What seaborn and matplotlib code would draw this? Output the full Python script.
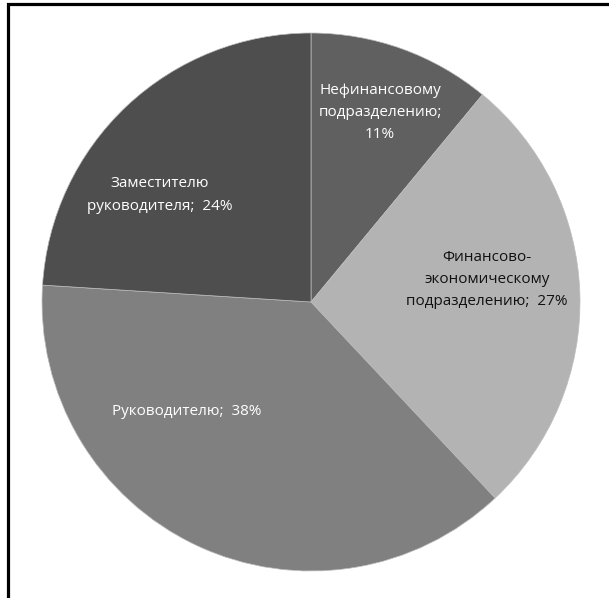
import matplotlib
matplotlib.use("Agg")
import matplotlib.pyplot as plt
import seaborn as sns
import numpy as np
from matplotlib.patches import Rectangle

# ---- data ----
categories = ["Нефинансовому\nподразделению;\n11%",
              "Финансово-\nэкономическому\nподразделению;  27%",
              "Руководителю;  38%",
              "Заместителю\nруководителя;  24%"]
values = [11, 27, 38, 24]

# ---- style ----
sns.set_theme(style="white")
plt.rcParams['font.family'] = ['Open Sans', 'DejaVu Sans']

colors = ["#606060", "#b3b3b3", "#808080", "#4e4e4e"]
text_colors = ["white", "#111111", "white", "white"]
# label placement: (angle in degrees, distance as fraction of radius)
label_pos = [(70, 0.75), (7.2, 0.66), (-138.7, 0.617), (144.8, 0.69)]

W, H = 609, 598
fig = plt.figure(figsize=(W / 100, H / 100), dpi=100)
ax = fig.add_axes([0, 0, 1, 1])

cx, cy, R = 311, H - 302, 269
wedges, _ = ax.pie(values, colors=colors, startangle=90, counterclock=False,
                   center=(cx, cy), radius=R, frame=True,
                   wedgeprops=dict(edgecolor="#bdbdbd", linewidth=0.5))
ax.set_xlim(0, W)
ax.set_ylim(0, H)
ax.set_aspect("equal")
ax.axis("off")

for lab, (ang, frac), tc in zip(categories, label_pos, text_colors):
    a = np.deg2rad(ang)
    ax.text(cx + frac * R * np.cos(a), cy + frac * R * np.sin(a), lab,
            ha="center", va="center", fontsize=11, color=tc,
            linespacing=1.65)

# outer frame (cut off at right and bottom in the reference)
fig.patches.append(Rectangle((7.5 / W, -0.1), 1.2, (H - 4.5) / H + 0.1,
                             transform=fig.transFigure, fill=False,
                             edgecolor="black", linewidth=2.3))

fig.savefig("out.png", dpi=100)
